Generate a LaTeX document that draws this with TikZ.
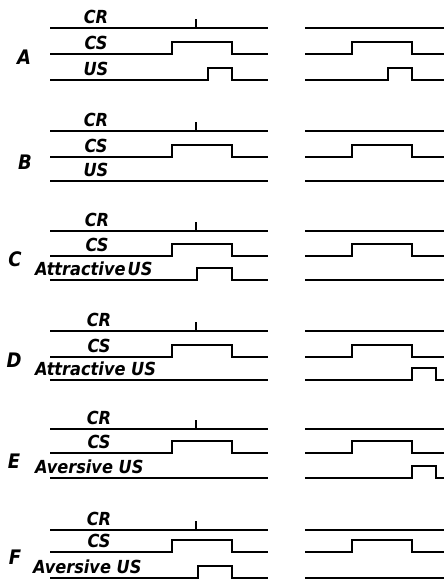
\documentclass[tikz,border=0pt]{standalone}
\usepackage{fontspec}
\setmainfont{DejaVu Sans}
\newfontfamily\lblfont{DejaVu Sans Condensed}
\newcommand\sgflat[3]{\draw[trace] (#2,#1) -- (#3,#1);}
\newcommand\sgpulse[5]{\draw[trace] (#2,#1) -- (#3,#1) -- (#3,#1-12) -- (#4,#1-12) -- (#4,#1) -- (#5,#1);}
\newcommand\sgcr[1]{\draw[trace] (50,#1) -- (268,#1); \draw[trace] (196,#1) -- (196,#1-9); \draw[trace] (305,#1) -- (445,#1);}
\begin{document}
\begin{tikzpicture}[x={(1pt,0)},y={(0,-1pt)},
  trace/.style={line width=2pt},
  lbl/.style={font=\lblfont\fontsize{18}{18}\selectfont\bfseries\itshape, inner sep=0pt, anchor=base},
  ulbl/.style={font=\lblfont\fontsize{18}{18}\selectfont\bfseries\itshape, inner sep=0pt, anchor=base west},
  plbl/.style={font=\lblfont\fontsize{20}{20}\selectfont\bfseries\itshape, inner sep=0pt}]
\useasboundingbox (0,0) rectangle (444,581);
% ---------- A
\sgcr{28}
\sgpulse{54}{50}{172}{232}{268}
\sgpulse{54}{305}{352}{412}{445}
\sgpulse{80}{50}{208}{232}{268}
\sgpulse{80}{305}{388}{412}{445}
\node[lbl] (aCR) at (96,23) {CR};
\node[lbl] (aCS) at (96,49) {CS};
\node[lbl] (aUS) at (96,75) {US};
\node[plbl] (A) at (24,57) {A};
% ---------- B
\sgcr{131}
\sgpulse{157}{50}{172}{232}{268}
\sgpulse{157}{305}{352}{412}{445}
\sgflat{181}{50}{268}
\sgflat{181}{305}{445}
\node[lbl] (bCR) at (96,126) {CR};
\node[lbl] (bCS) at (96,152) {CS};
\node[lbl] (bUS) at (96,176) {US};
\node[plbl] (B) at (25,162) {B};
% ---------- C
\sgcr{231}
\sgpulse{256}{50}{172}{232}{268}
\sgpulse{256}{305}{352}{412}{445}
\sgpulse{280}{50}{197}{232}{268}
\sgflat{280}{305}{445}
\node[lbl] (cCR) at (97,226) {CR};
\node[lbl] (cCS) at (97,251) {CS};
\node[ulbl] (cUS) at (35,275) {Attractive\hspace{0.12em}US};
\node[plbl] (C) at (15,259) {C};
% ---------- D
\sgcr{331}
\sgpulse{357}{50}{172}{232}{268}
\sgpulse{357}{305}{352}{412}{445}
\sgflat{380}{50}{268}
\sgpulse{380}{305}{412}{436}{445}
\node[lbl] (dCR) at (99,326) {CR};
\node[lbl] (dCS) at (99,352) {CS};
\node[ulbl] (dUS) at (35,375) {Attractive US};
\node[plbl] (D) at (14,360) {D};
% ---------- E
\sgcr{429}
\sgpulse{453}{50}{172}{232}{268}
\sgpulse{453}{305}{352}{412}{445}
\sgflat{478}{50}{268}
\sgpulse{478}{305}{412}{436}{445}
\node[lbl] (eCR) at (99,424) {CR};
\node[lbl] (eCS) at (99,448) {CS};
\node[ulbl] (eUS) at (35,473) {Aversive US};
\node[plbl] (E) at (14,461) {E};
% ---------- F
\sgcr{530}
\sgpulse{552}{50}{172}{232}{268}
\sgpulse{552}{305}{352}{412}{445}
\sgpulse{578}{50}{198}{232}{268}
\sgflat{578}{305}{445}
\node[lbl] (fCR) at (99,525) {CR};
\node[lbl] (fCS) at (99,547) {CS};
\node[ulbl] (fUS) at (33,573) {Aversive US};
\node[plbl] (F) at (15,557) {F};
\end{tikzpicture}
\end{document}
